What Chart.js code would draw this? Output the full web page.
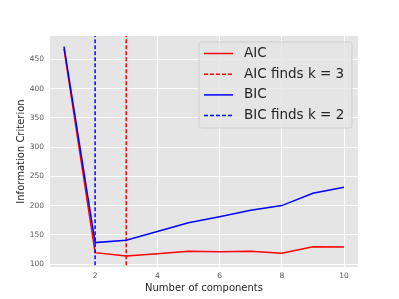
<!DOCTYPE html>
<html>
<head>
<meta charset="utf-8">
<script src="https://cdn.jsdelivr.net/npm/chart.js@4"></script>
<style>
  html, body { margin:0; padding:0; background:#fff; }
  #wrap { width:399px; height:299px; }
</style>
</head>
<body>
<div id="wrap"><canvas id="icChart"></canvas></div>
<script>
// data
const components = [1,2,3,4,5,6,7,8,9,10];
const aicValues = [468,119.5,113.8,117.8,121.9,121.2,121.9,118.4,129.8,129.2];
const bicValues = [472,136.7,140.8,155.7,170.7,181,192,200,221.2,231.5];
const aicBestK = 3;
const bicBestK = 2;
const xTicks = [2,4,6,8,10];
const yTicks = [100,150,200,250,300,350,400,450];

const FONT = "'DejaVu Sans', sans-serif";

// helper: vertical line spanning full plot height (clipped by chart area)
const vline = k => [{x:k, y:-1000}, {x:k, y:2000}];

// legend drawn inside the plot, upper right (like matplotlib)
const insideLegend = {
  id:'insideLegend',
  afterDatasetsDraw(chart){
    const ctx = chart.ctx;
    const x0 = 199, y0 = 42, w = 153, h = 86;
    ctx.save();
    ctx.beginPath();
    ctx.roundRect(x0, y0, w, h, 3);
    ctx.fillStyle = 'rgba(229,229,229,0.8)';
    ctx.fill();
    ctx.strokeStyle = 'rgba(204,204,204,0.8)';
    ctx.lineWidth = 1;
    ctx.stroke();
    ctx.font = '13.5px ' + FONT;
    ctx.textBaseline = 'middle';
    chart.data.datasets.forEach((ds, i) => {
      const y = 53.5 + i * 20.7;
      ctx.beginPath();
      ctx.strokeStyle = ds.borderColor;
      ctx.lineWidth = ds.borderWidth;
      ctx.setLineDash(ds.borderDash || []);
      ctx.moveTo(204, y);
      ctx.lineTo(233, y);
      ctx.stroke();
      ctx.setLineDash([]);
      ctx.fillStyle = '#262626';
      ctx.fillText(ds.label, 244, y);
    });
    ctx.restore();
  }
};

const plotBg = {
  id:'plotBg',
  beforeDraw(chart){
    const a = chart.chartArea;
    chart.ctx.save();
    chart.ctx.fillStyle = '#e5e5e5';
    chart.ctx.fillRect(a.left, a.top, a.right - a.left, a.bottom - a.top);
    chart.ctx.restore();
  }
};

new Chart(document.getElementById('icChart'), {
  type:'line',
  data:{
    datasets:[
      {label:'AIC', data:components.map((c,i)=>({x:c, y:aicValues[i]})), borderColor:'#ff0000', borderWidth:1.5, order:4},
      {label:'AIC finds k = ' + aicBestK, data:vline(aicBestK), borderColor:'#ff0000', borderWidth:1.5, borderDash:[4,2], order:3},
      {label:'BIC', data:components.map((c,i)=>({x:c, y:bicValues[i]})), borderColor:'#0000ff', borderWidth:1.5, order:2},
      {label:'BIC finds k = ' + bicBestK, data:vline(bicBestK), borderColor:'#0000ff', borderWidth:1.5, borderDash:[4,2], order:1}
    ]
  },
  options:{
    responsive:true,
    maintainAspectRatio:false,
    animation:false,
    events:[],
    elements:{point:{radius:0}, line:{tension:0, fill:false}},
    layout:{padding:{left:0, top:36, right:41, bottom:0}},
    plugins:{legend:{display:false}, tooltip:{enabled:false}},
    scales:{
      x:{
        type:'linear', min:0.55, max:10.45,
        afterBuildTicks: s => { s.ticks = xTicks.map(v => ({value:v})); },
        afterFit: s => { s.height = 32; },
        border:{display:false},
        grid:{color:'#ffffff', lineWidth:1, drawTicks:false},
        ticks:{color:'#555555', font:{family:FONT, size:7.5}, padding:5, maxRotation:0},
        title:{display:true, text:'Number of components', color:'#262626', font:{family:FONT, size:10}, padding:{top:1, bottom:5}}
      },
      y:{
        type:'linear', min:95, max:490,
        afterBuildTicks: s => { s.ticks = yTicks.map(v => ({value:v})); },
        afterFit: s => { s.width = 50; },
        border:{display:false},
        grid:{color:'#ffffff', lineWidth:1, drawTicks:false},
        ticks:{color:'#555555', font:{family:FONT, size:7.5}, padding:6},
        title:{display:true, text:'Information Criterion', color:'#262626', font:{family:FONT, size:10}, padding:{top:15, bottom:0}}
      }
    }
  },
  plugins:[plotBg, insideLegend]
});
</script>
</body>
</html>
